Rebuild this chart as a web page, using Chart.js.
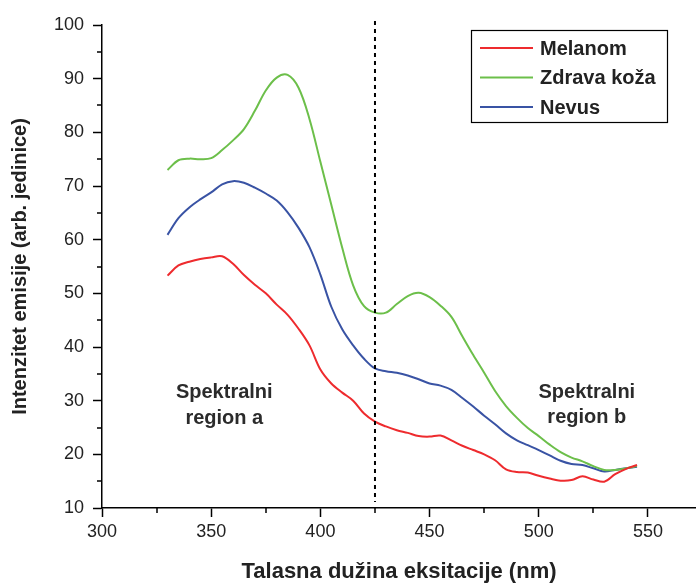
<!DOCTYPE html>
<html>
<head>
<meta charset="utf-8">
<script src="https://cdn.jsdelivr.net/npm/chart.js@4.4.1/dist/chart.umd.min.js"></script>
<style>
  body { margin: 0; background: #fff; }
  #wrap { width: 696px; height: 585px; }
</style>
</head>
<body>
<div id="wrap"><canvas id="chart" width="696" height="585"></canvas></div>
<script>
// excitation wavelengths (nm)
const wavelengths = [330, 335, 340, 345, 350, 355, 360, 365, 370, 375, 380, 385, 390, 395, 400,
  405, 410, 415, 420, 425, 430, 435, 440, 445, 450, 455, 460, 465, 470, 475, 480, 485, 490,
  495, 500, 505, 510, 515, 520, 525, 530, 535, 540, 545];

const melanom = [53.3, 55.2, 55.9, 56.4, 56.7, 56.9, 55.5, 53.4, 51.6, 50.0, 47.9, 46.0, 43.4, 40.3, 35.8,
  33.2, 31.5, 30.0, 27.6, 26.1, 25.2, 24.5, 24.0, 23.4, 23.3, 23.5, 22.6, 21.6, 20.8, 20.0, 18.9, 17.2, 16.7,
  16.6, 16.0, 15.5, 15.1, 15.2, 15.9, 15.3, 14.9, 16.3, 17.3, 18.0];

const zdravaKoza = [73.0, 74.8, 75.1, 75.0, 75.2, 76.7, 78.5, 80.6, 84.0, 87.8, 90.2, 90.7, 88.3, 82.5, 74.5,
  66.5, 58.5, 51.5, 47.6, 46.4, 46.4, 48.0, 49.5, 50.1, 49.3, 47.7, 45.6, 42.0, 38.5, 35.2, 31.8, 29.0, 26.8,
  24.9, 23.4, 21.8, 20.4, 19.4, 18.7, 17.8, 17.1, 17.1, 17.4, 17.8];

const nevus = [60.9, 64.0, 66.0, 67.5, 68.8, 70.3, 70.9, 70.6, 69.7, 68.6, 67.3, 65.1, 62.2, 58.6, 53.5,
  47.5, 43.3, 40.3, 37.8, 36.0, 35.5, 35.2, 34.7, 34.0, 33.2, 32.8, 32.0, 30.5, 28.9, 27.2, 25.6, 23.9, 22.6,
  21.7, 20.8, 19.8, 18.8, 18.2, 18.0, 17.4, 16.8, 17.1, 17.4, 17.7];

const xTicks = [300, 325, 350, 375, 400, 425, 450, 475, 500, 525, 550];
const yTicks = [10, 15, 20, 25, 30, 35, 40, 45, 50, 55, 60, 65, 70, 75, 80, 85, 90, 95, 100];
const regionBoundary = 425;

const FONT = '"Liberation Sans", Arial, sans-serif';
const toPoints = vals => vals.map((v, i) => ({ x: wavelengths[i], y: v }));
const isMajorX = v => v % 50 === 0;
const isMajorY = v => v % 10 === 0;

// minor ticks, dashed boundary, region captions and the boxed legend
const extras = {
  id: 'extras',
  afterDraw(chart) {
    const ctx = chart.ctx;
    const xs = chart.scales.x, ys = chart.scales.y;
    const area = chart.chartArea;
    ctx.save();

    // minor ticks
    ctx.strokeStyle = '#000';
    ctx.lineWidth = 1.5;
    ctx.beginPath();
    xTicks.filter(v => !isMajorX(v)).forEach(v => {
      const px = Math.round(xs.getPixelForValue(v));
      ctx.moveTo(px, area.bottom); ctx.lineTo(px, area.bottom + 5);
    });
    yTicks.filter(v => !isMajorY(v)).forEach(v => {
      const py = Math.round(ys.getPixelForValue(v));
      ctx.moveTo(area.left, py); ctx.lineTo(area.left - 5, py);
    });
    ctx.stroke();

    // dashed line between spectral regions
    const bx = xs.getPixelForValue(regionBoundary);
    ctx.setLineDash([4, 4]);
    ctx.lineWidth = 2;
    ctx.beginPath();
    ctx.moveTo(bx, area.top - 4);
    ctx.lineTo(bx, area.bottom - 6);
    ctx.stroke();
    ctx.setLineDash([]);

    // region captions
    ctx.fillStyle = '#2b2b2b';
    ctx.font = 'bold 20px ' + FONT;
    ctx.textAlign = 'center';
    ctx.textBaseline = 'middle';
    const ax = xs.getPixelForValue(356), bxx = xs.getPixelForValue(522);
    ctx.fillText('Spektralni', ax, ys.getPixelForValue(31.6));
    ctx.fillText('region a', ax, ys.getPixelForValue(26.6));
    ctx.fillText('Spektralni', bxx, ys.getPixelForValue(31.6));
    ctx.fillText('region b', bxx, ys.getPixelForValue(26.8));

    // legend box
    const lx = 471, ly = 30, lw = 196, lh = 92;
    ctx.fillStyle = '#fff';
    ctx.fillRect(lx, ly, lw, lh);
    ctx.strokeStyle = '#000';
    ctx.lineWidth = 1.2;
    ctx.strokeRect(lx + 0.5, ly + 0.5, lw, lh);
    ctx.textAlign = 'left';
    chart.data.datasets.forEach((ds, i) => {
      const yy = ly + 18 + i * 29.5;
      ctx.strokeStyle = ds.borderColor;
      ctx.lineWidth = 2;
      ctx.beginPath();
      ctx.moveTo(lx + 9, yy); ctx.lineTo(lx + 62, yy);
      ctx.stroke();
      ctx.fillStyle = '#222';
      ctx.fillText(ds.label, lx + 69, yy + 1);
    });
    ctx.restore();
  }
};

new Chart(document.getElementById('chart'), {
  type: 'line',
  data: {
    datasets: [
      { label: 'Melanom', data: toPoints(melanom), borderColor: '#ee2b2e' },
      { label: 'Zdrava koža', data: toPoints(zdravaKoza), borderColor: '#6cbf4a' },
      { label: 'Nevus', data: toPoints(nevus), borderColor: '#3953a4' }
    ]
  },
  options: {
    responsive: false,
    animation: false,
    layout: { padding: { top: 25, right: 0, left: 0, bottom: 0 } },
    elements: {
      point: { radius: 0 },
      line: { borderWidth: 2, tension: 0.35 }
    },
    plugins: { legend: { display: false }, tooltip: { enabled: false } },
    scales: {
      x: {
        type: 'linear',
        min: 300,
        max: 572,
        afterBuildTicks: s => { s.ticks = xTicks.map(v => ({ value: v })); },
        afterFit: s => { s.height = 77; },
        border: { color: '#000', width: 1.5 },
        grid: {
          drawOnChartArea: false,
          tickLength: 9,
          tickWidth: 1.5,
          tickColor: c => (c.tick && isMajorX(c.tick.value)) ? '#000' : 'rgba(0,0,0,0)'
        },
        ticks: {
          autoSkip: false,
          maxRotation: 0,
          padding: 4,
          color: '#222',
          font: { family: FONT, size: 18 },
          callback: v => isMajorX(v) ? v : ''
        },
        title: {
          display: true,
          text: 'Talasna dužina eksitacije (nm)',
          color: '#222',
          font: { family: FONT, size: 22, weight: 'bold' },
          padding: { top: 0, bottom: 0 }
        }
      },
      y: {
        min: 10,
        max: 100,
        afterBuildTicks: s => { s.ticks = yTicks.map(v => ({ value: v })); },
        afterFit: s => { s.width = 102; },
        border: { color: '#000', width: 1.5 },
        grid: {
          drawOnChartArea: false,
          tickLength: 9,
          tickWidth: 1.5,
          tickColor: c => (c.tick && isMajorY(c.tick.value)) ? '#000' : 'rgba(0,0,0,0)'
        },
        ticks: {
          autoSkip: false,
          padding: 9,
          color: '#222',
          font: { family: FONT, size: 18 },
          callback: v => isMajorY(v) ? v : ''
        },
        title: {
          display: true,
          text: 'Intenzitet emisije (arb. jedinice)',
          color: '#222',
          font: { family: FONT, size: 20, weight: 'bold' },
          padding: { top: 8, bottom: 0 }
        }
      }
    }
  },
  plugins: [extras]
});
</script>
</body>
</html>
